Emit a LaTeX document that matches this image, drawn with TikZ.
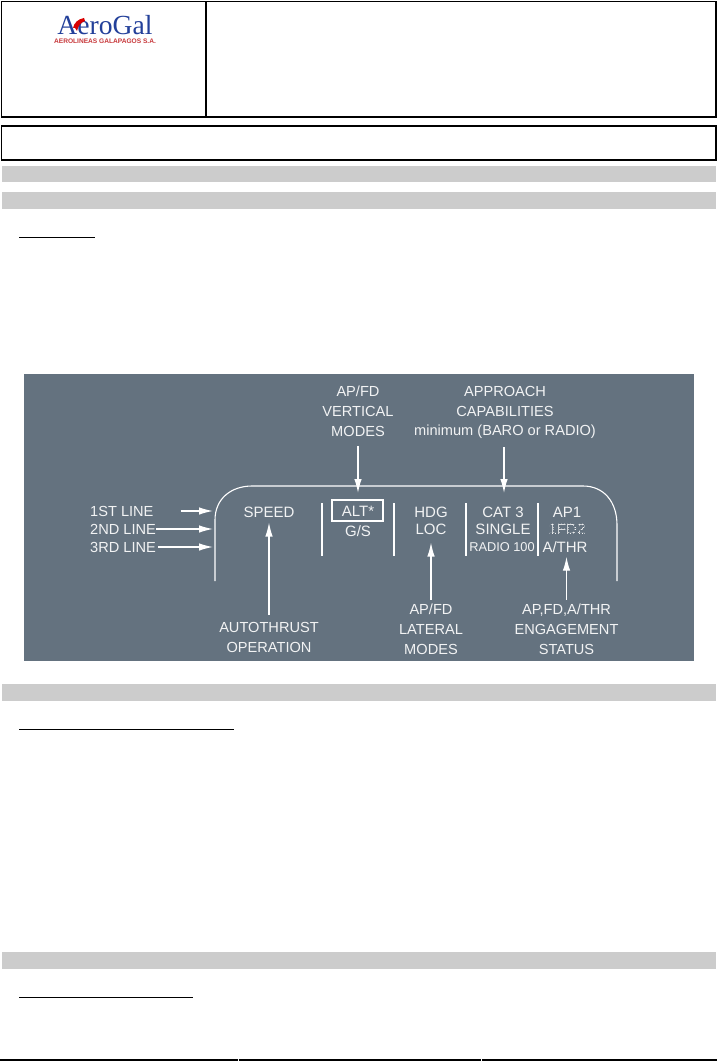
\documentclass[tikz,border=0pt]{standalone}
\usepackage{fontspec}
\setmainfont{Liberation Sans}
\newfontfamily\logofont{Liberation Serif}
\usetikzlibrary{arrows.meta}
\definecolor{panelcol}{HTML}{64727F}
\definecolor{bandcol}{HTML}{CCCCCC}
\definecolor{logoblue}{HTML}{23409A}
\definecolor{logored}{HTML}{C8393C}
\definecolor{labelcol}{HTML}{F2F3F4}
\tikzset{
  lab/.style={text=labelcol,inner sep=0pt,align=center,font=\fontsize{14.6}{19.9}\selectfont},
  show/.style={lab,font=\fontsize{15}{16}\selectfont},
  frame/.style={draw=black,line width=1.6pt},
  band/.style={fill=bandcol,draw=none},
  rule/.style={draw=black,line width=0.9pt},
  wire/.style={draw=white,line width=1.1pt},
  arr/.style={->,draw=white,line width=1.3pt}
}
\begin{document}
\begin{tikzpicture}[x=1pt,y=-1pt,>={Latex[length=14pt,width=7.5pt]}]
          \useasboundingbox (0,0) rectangle (717,1062);
          \fill[white] (0,0) rectangle (717,1062);
          % Header
          \draw[frame] (1.5,1.5) rectangle (716,117);
          \draw[frame] (206,1.5) -- (206,117);
          \draw[frame] (1.5,126) rectangle (716,160);
          \node[inner sep=0pt,text=logoblue,font=\logofont\fontsize{27.6}{28}\selectfont] (logo) at (105,25.5) {AeroGal};
          \node[inner sep=0pt,text=logored,font=\bfseries\fontsize{6.6}{7}\selectfont] (logosub) at (105,41.5) {AEROLINEAS GALAPAGOS S.A.};
          \fill[red!85!black] (73,28) .. controls (74,23) and (78,19) .. (84,18) -- (85,21) .. controls (81,22) and (78,26) .. (77,31) -- (75,28) -- cycle;
          % Grey bands
          \fill[band] (2,166) rectangle (716,182);
          \fill[band] (2,192) rectangle (716,209);
          \fill[band] (2,684) rectangle (716,701);
          \fill[band] (2,952) rectangle (716,969);
          % Underlines
          \draw[rule] (19,237) -- (95,237);
          \draw[rule] (19,729) -- (234,729);
          \draw[rule] (19,997) -- (193,997);
          % Foot rule
          \draw[black,line width=1.6pt] (0,1060) -- (238,1060);
          \draw[black,line width=1.6pt] (238.6,1060) -- (481,1060);
          \draw[black,line width=1.6pt] (481.6,1060) -- (717,1060);
          % Panel
          \fill[panelcol] (24,374) rectangle (694,661);
          \draw[wire] (215,581) -- (215,520) .. controls (215,498) and (232,486) .. (252,486)
            -- (583,486) .. controls (604,486) and (617,502) .. (617,525) -- (617,581);
          \foreach \sepx in {322,394,466,538}
            \draw[wire] (\sepx,503) -- (\sepx,556);
          \draw[wire] (332,500) rectangle (383,521);
          % Display text
          \node[show] (speed) at (269,512) {SPEED};
          \node[show] (alt) at (358,511) {ALT*};
          \node[show] (gs) at (358,531) {G/S};
          \node[show] (hdg) at (431,512) {HDG};
          \node[show] (loc) at (431,529) {LOC};
          \node[show] (cat) at (503,512) {CAT 3};
          \node[show] (single) at (503,529) {SINGLE};
          \node[lab,font=\fontsize{12.8}{14}\selectfont] (radio) at (502,547) {RADIO 100};
          \node[show] (ap) at (567,512) {AP1};
          \node[show] (fd) at (567,529) {1FD2};
          \foreach \dashy in {523.5,526,528.5,531,533.5}
            \draw[panelcol,line width=1.1pt,dash pattern=on 1.6pt off 1.4pt] (550,\dashy) -- (584,\dashy);
          \node[show] (athr) at (565,547) {A/THR};
          % Line labels
          \node[lab,anchor=west] (first) at (90,511) {1ST LINE};
          \node[lab,anchor=west] (second) at (90,529) {2ND LINE};
          \node[lab,anchor=west] (third) at (90,547) {3RD LINE};
          \coordinate (firstend) at (213,511);
          \coordinate (secondend) at (213,529);
          \coordinate (thirdend) at (213,547);
          % Callouts
          \node[lab] (vert) at (358,411.5) {AP/FD\\VERTICAL\\MODES};
          \node[lab] (appr) at (505,412.5) {APPROACH\\CAPABILITIES\\minimum (BARO or RADIO)};
          \node[lab] (auto) at (269,637.5) {AUTOTHRUST\\OPERATION};
          \node[lab] (lat) at (431,629) {AP/FD\\LATERAL\\MODES};
          \node[lab] (eng) at (566.5,629) {AP,FD,A/THR\\ENGAGEMENT\\STATUS};
          \coordinate (verttip) at (358,493);
          \coordinate (apprtip) at (504,493);
          % Arrows
          \draw[arr,shorten <=27pt] (first.east) -- (firstend);
          \draw[arr] (second.east) -- (secondend);
          \draw[arr,shorten <=2pt] (third.east) -- (thirdend);
          \draw[arr,shorten <=9pt] (vert.south) -- (verttip);
          \draw[arr,shorten <=8pt] (appr.south -| apprtip) -- (apprtip);
          \draw[arr,shorten <=7pt,shorten >=5pt] (auto.north) -- (speed.south);
          \draw[arr,shorten <=4pt,shorten >=8pt] (lat.north) -- (loc.south);
          \draw[arr,shorten <=4pt,shorten >=4pt] (eng.north) -- (athr.south -| eng.north);
        \end{tikzpicture}
\end{document}
